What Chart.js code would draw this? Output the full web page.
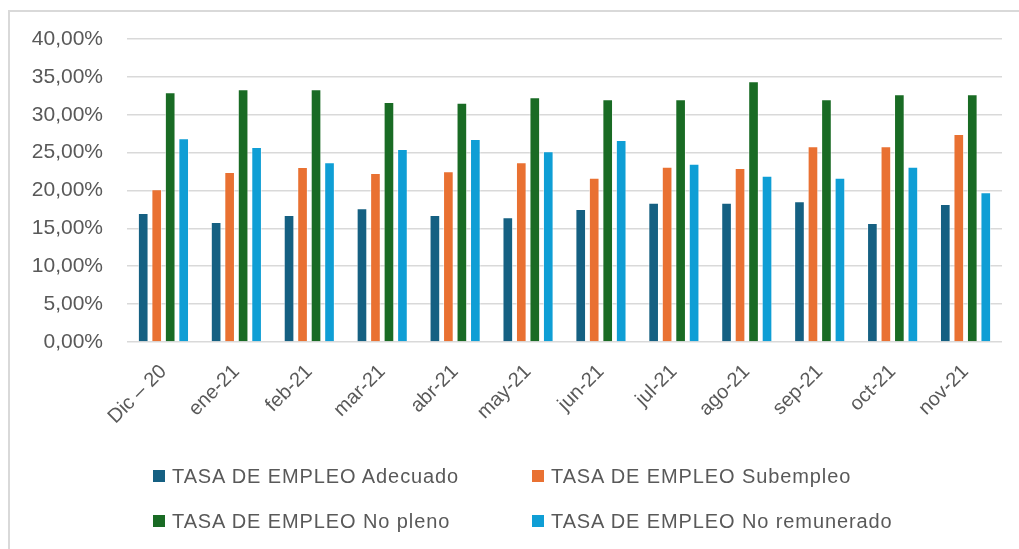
<!DOCTYPE html>
<html>
<head>
<meta charset="utf-8">
<script src="https://cdn.jsdelivr.net/npm/chart.js@4.4.1/dist/chart.umd.min.js"></script>
<style>
  html, body { margin: 0; padding: 0; background: #fff; }
  #wrap { position: relative; width: 1019px; height: 549px; overflow: hidden; }
  #frame { position: absolute; left: 8px; top: 10px; width: 1020px; height: 545px;
           border-left: 2px solid #d9d9d9; border-top: 2px solid #d9d9d9; }
  #c { position: absolute; left: 0; top: 0; }
  #legend { position: absolute; left: 0; top: 0; width: 1019px; height: 549px; pointer-events: none;
            font-family: "Liberation Sans", Arial, sans-serif; font-size: 20px; letter-spacing: 0.9px; color: #595959; }
  .li { position: absolute; display: flex; align-items: center; white-space: nowrap; }
  .sw { width: 12px; height: 12px; margin-right: 7px; }
</style>
</head>
<body>
<div id="wrap">
  <div id="frame"></div>
  <canvas id="c" width="1019" height="549"></canvas>
  <div id="legend"></div>
</div>
<script>
const categories = ["Dic – 20", "ene-21", "feb-21", "mar-21", "abr-21", "may-21", "jun-21", "jul-21", "ago-21", "sep-21", "oct-21", "nov-21"];
const seriesNames = ["TASA DE EMPLEO Adecuado", "TASA DE EMPLEO Subempleo", "TASA DE EMPLEO No pleno", "TASA DE EMPLEO No remunerado"];
const adecuado    = [17.03, 15.84, 16.77, 17.65, 16.77, 16.46, 17.56, 18.39, 18.39, 18.57, 15.71, 18.22];
const subempleo   = [20.15, 22.44, 23.10, 22.31, 22.53, 23.72, 21.69, 23.15, 22.97, 25.83, 25.83, 27.46];
const noPleno     = [32.96, 33.36, 33.36, 31.68, 31.60, 32.30, 32.04, 32.04, 34.41, 32.04, 32.70, 32.70];
const noRemunerado= [26.89, 25.74, 23.72, 25.48, 26.80, 25.17, 26.67, 23.54, 21.96, 21.69, 23.15, 19.76];
const yTicks = [0, 5, 10, 15, 20, 25, 30, 35, 40];

const colors = ["#156082", "#E97132", "#196B24", "#0F9ED5"];
const seriesData = [adecuado, subempleo, noPleno, noRemunerado];

const datasets = seriesNames.map((name, i) => ({
  label: name,
  data: seriesData[i],
  backgroundColor: colors[i],
  borderColor: "rgba(255,255,255,0.55)",
  borderWidth: 1,
  categoryPercentage: 0.74,
  barPercentage: 0.79
}));

const chart = new Chart(document.getElementById("c"), {
  type: "bar",
  data: { labels: categories, datasets },
  options: {
    responsive: false,
    animation: false,
    devicePixelRatio: 1,
    layout: { padding: { top: 39, right: 17, bottom: 107, left: 0 } },
    plugins: { legend: { display: false }, tooltip: { enabled: false } },
    scales: {
      x: {
        grid: { display: false },
        border: { display: false },
        ticks: { color: "#595959", font: { family: "Liberation Sans, Arial, sans-serif", size: 20 },
                 minRotation: 45, maxRotation: 45, padding: 10 },
        afterFit: (s) => { s.height = 100; }
      },
      y: {
        min: 0, max: 40,
        afterBuildTicks: (s) => { s.ticks = yTicks.map(v => ({ value: v })); },
        grid: { color: "#d9d9d9", lineWidth: 1.6, drawTicks: false },
        border: { display: false },
        ticks: { color: "#595959", font: { family: "Liberation Sans, Arial, sans-serif", size: 21 }, padding: 24,
                 callback: (v) => v.toFixed(2).replace(".", ",") + "%" },
        afterFit: (s) => { s.width = 127; }
      }
    }
  }
});

// HTML legend generated from the chart's datasets (2 x 2 layout)
const legendPos = [[153, 476], [532, 476], [153, 521], [532, 521]];
const leg = document.getElementById("legend");
chart.data.datasets.forEach((ds, i) => {
  const d = document.createElement("div");
  d.className = "li";
  d.style.left = legendPos[i][0] + "px";
  d.style.top = (legendPos[i][1] - 12) + "px";
  d.style.height = "24px";
  const sw = document.createElement("span");
  sw.className = "sw";
  sw.style.background = ds.backgroundColor;
  const t = document.createElement("span");
  t.textContent = ds.label;
  d.appendChild(sw); d.appendChild(t);
  leg.appendChild(d);
});
</script>
</body>
</html>
